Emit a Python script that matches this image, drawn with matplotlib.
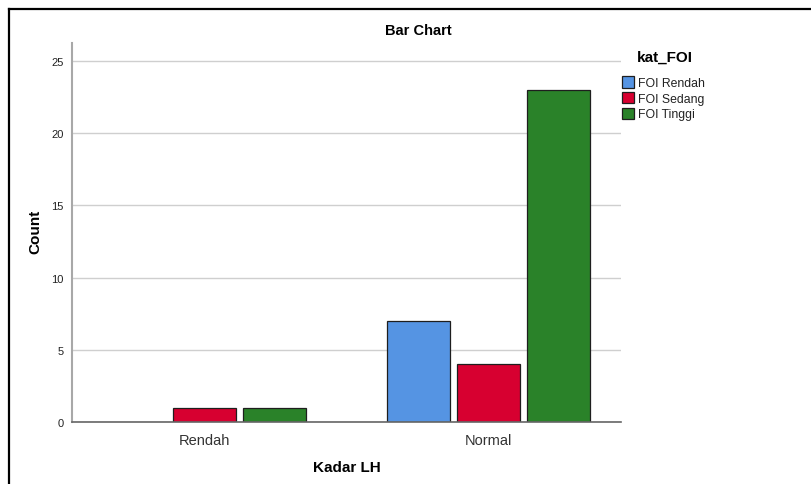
import numpy as np
import matplotlib.pyplot as plt
from matplotlib.lines import Line2D
from matplotlib.patches import Patch

plt.rcParams['font.family'] = ['Liberation Sans', 'DejaVu Sans']

# data
kategori = ['Rendah', 'Normal']
seri = ['FOI Rendah', 'FOI Sedang', 'FOI Tinggi']
nilai = [
    [0, 7],   # FOI Rendah
    [1, 4],   # FOI Sedang
    [1, 23],  # FOI Tinggi
]
warna = ['#5594E3', '#D70030', '#2A8229']
yticks = [0, 5, 10, 15, 20, 25]

fig = plt.figure(figsize=(8.12, 4.85), dpi=100)
ax = fig.add_axes([72 / 812, 1 - 423 / 485, 549 / 812, 379 / 485])

x = np.arange(len(kategori))
lebar = 0.222
langkah = 0.2465
for i, (nama, vals) in enumerate(zip(seri, nilai)):
    pos = x + (i - 1) * langkah
    # batang bernilai 0 tidak diberi garis tepi
    lw = [0.9 if v > 0 else 0 for v in vals]
    ax.bar(pos, vals, width=lebar, color=warna[i], edgecolor='#1e1e1e',
           linewidth=lw, zorder=3)

ax.set_xlim(-0.4665, 1.4665)
ax.set_ylim(0, 26.25)
ax.set_yticks(yticks)
ax.set_xticks(x)
ax.set_xticklabels(kategori, fontsize=10.5, color='#333333')
ax.tick_params(axis='y', length=0, pad=6, labelsize=8, labelcolor='#222222')
ax.tick_params(axis='x', length=0, pad=8)
ax.yaxis.grid(True, color='#cfcfcf', linewidth=1.0, zorder=0)
ax.set_axisbelow(True)

for s in ['top', 'right']:
    ax.spines[s].set_visible(False)
ax.spines['left'].set_color('#a8a8a8')
ax.spines['left'].set_linewidth(1.5)
ax.spines['bottom'].set_color('#666666')
ax.spines['bottom'].set_linewidth(1.2)
ax.spines['bottom'].set_zorder(4)

fig.text(418 / 812, 1 - 31 / 485, 'Bar Chart', ha='center', va='center',
         fontsize=10.5, fontweight='bold')
fig.text(35 / 812, 1 - 232 / 485, 'Count', ha='center', va='center',
         rotation=90, fontsize=11, fontweight='bold')
fig.text(347 / 812, 1 - 468 / 485, 'Kadar LH', ha='center', va='center',
         fontsize=11, fontweight='bold')

# legenda
fig.text(637 / 812, 1 - 58 / 485, 'kat_FOI', ha='left', va='center',
         fontsize=11, fontweight='bold')
handles = [Patch(facecolor=w, edgecolor='#1e1e1e', linewidth=0.9) for w in warna]
leg = fig.legend(handles, seri, loc='upper left',
                 bbox_to_anchor=(620 / 812, 1 - 75 / 485),
                 frameon=False, fontsize=8.8,
                 handlelength=0.95, handleheight=1.05, handletextpad=0.3,
                 labelspacing=0.22, borderaxespad=0, borderpad=0.2)
for t in leg.get_texts():
    t.set_color('#222222')

# bingkai
fig.add_artist(Line2D([9.5 / 812, 9.5 / 812], [1 - 9.5 / 485, 0], color='black',
                      linewidth=1.6, transform=fig.transFigure))
fig.add_artist(Line2D([9.5 / 812, 1], [1 - 9.5 / 485, 1 - 9.5 / 485], color='black',
                      linewidth=1.6, transform=fig.transFigure))

fig.savefig('out.png', dpi=100)
plt.close('all')
